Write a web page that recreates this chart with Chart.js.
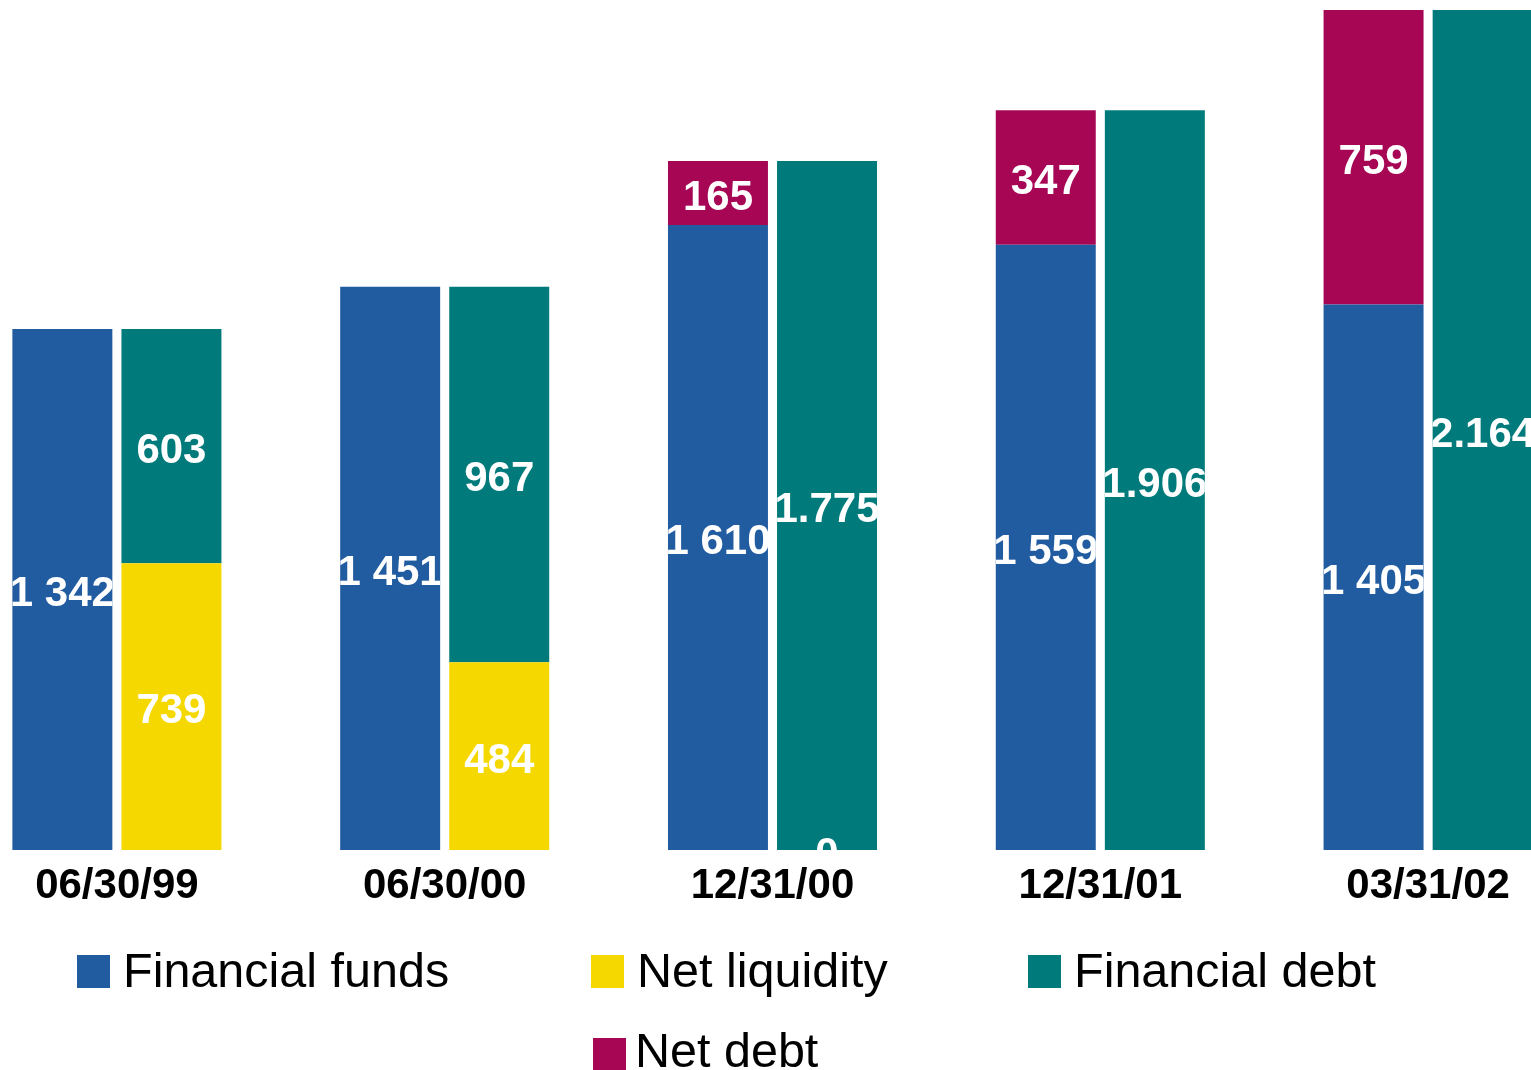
<!DOCTYPE html>
<html>
<head>
<meta charset="utf-8">
<script src="https://cdn.jsdelivr.net/npm/chart.js@4/dist/chart.umd.min.js"></script>
<style>
  html, body { margin: 0; padding: 0; background: #fff; overflow: hidden; }
  body { width: 1531px; height: 1070px; position: relative; }
  #wrap { position: absolute; left: -47px; top: 0; width: 1639px; height: 910px; }
  .lg { position: absolute; font-family: "Liberation Sans", Arial, sans-serif; font-size: 48.5px; line-height: 48px; color: #000; white-space: nowrap; }
  .bx { position: absolute; width: 33px; height: 33px; }
</style>
</head>
<body>
<div id="wrap"><canvas id="c"></canvas></div>
<div id="legend"></div>
<script>
const categories = ['06/30/99', '06/30/00', '12/31/00', '12/31/01', '03/31/02'];
const financialFunds = [1342, 1451, 1610, 1559, 1405];
const netDebt        = [null, null, 165, 347, 759];
const netLiquidity   = [739, 484, 0, null, null];
const financialDebt  = [603, 967, 1775, 1906, 2164];
const seriesNames = ['Financial funds', 'Net liquidity', 'Financial debt', 'Net debt'];
const seriesColors = ['#215BA0', '#F5D800', '#007A7A', '#A60654'];
const thousandSep = { 'Financial funds': ' ', 'Net liquidity': ' ', 'Financial debt': '.', 'Net debt': ' ' };

function fmt(v, sep) {
  const s = String(Math.round(v));
  return s.replace(/\B(?=(\d{3})+(?!\d))/g, sep);
}

const labelPlugin = {
  id: 'segLabels',
  afterDatasetsDraw(chart) {
    const ctx = chart.ctx;
    const area = chart.chartArea;
    chart.data.datasets.forEach((ds, di) => {
      const meta = chart.getDatasetMeta(di);
      meta.data.forEach((el, i) => {
        const v = ds.data[i];
        if (v === null || v === undefined) return;
        const p = el.getProps(['x', 'y', 'base', 'width'], true);
        const left = p.x - p.width / 2;
        ctx.save();
        ctx.beginPath();
        ctx.rect(left, area.top, p.width, area.bottom - area.top);
        ctx.clip();
        ctx.fillStyle = '#fff';
        ctx.font = 'bold 42px "Liberation Sans", Arial, sans-serif';
        ctx.textAlign = 'center';
        ctx.textBaseline = 'alphabetic';
        const cy = (p.y + p.base) / 2;
        ctx.fillText(fmt(v, thousandSep[ds.label]), p.x, cy + 16.5);
        ctx.restore();
      });
    });
  }
};

const seriesData = [financialFunds, netLiquidity, financialDebt, netDebt];
const seriesStack = ['left', 'right', 'right', 'left'];

new Chart(document.getElementById('c'), {
  type: 'bar',
  data: {
    labels: categories,
    datasets: seriesNames.map((n, k) => ({
      label: n,
      data: seriesData[k],
      backgroundColor: seriesColors[k],
      stack: seriesStack[k],
      borderWidth: 0,
      barPercentage: 0.9166,
      categoryPercentage: 0.6655
    }))
  },
  options: {
    responsive: true,
    maintainAspectRatio: false,
    animation: false,
    events: [],
    layout: { padding: { top: 10, left: 0, right: 0, bottom: 0 } },
    plugins: { legend: { display: false }, tooltip: { enabled: false } },
    scales: {
      x: {
        stacked: true,
        grid: { display: false, drawTicks: false },
        border: { display: false },
        ticks: {
          color: '#000',
          padding: 11,
          font: { family: '"Liberation Sans", Arial, sans-serif', size: 42, weight: 'bold' },
          maxRotation: 0, autoSkip: false
        },
        afterFit(s) { s.height = 60; }
      },
      y: {
        display: false,
        stacked: true,
        min: 0,
        max: 2164
      }
    }
  },
  plugins: [labelPlugin]
});

// HTML legend
const legendPos = [
  { box: [77, 955], text: [123, 946] },
  { box: [591, 955], text: [637, 946] },
  { box: [1028, 955], text: [1074, 946] },
  { box: [593, 1038], text: [635, 1026] }
];
const lg = document.getElementById('legend');
seriesNames.forEach((n, k) => {
  const b = document.createElement('div');
  b.className = 'bx';
  b.style.left = legendPos[k].box[0] + 'px';
  b.style.top = legendPos[k].box[1] + 'px';
  b.style.background = seriesColors[k];
  lg.appendChild(b);
  const t = document.createElement('div');
  t.className = 'lg';
  t.style.left = legendPos[k].text[0] + 'px';
  t.style.top = legendPos[k].text[1] + 'px';
  t.textContent = n;
  lg.appendChild(t);
});
</script>
</body>
</html>
